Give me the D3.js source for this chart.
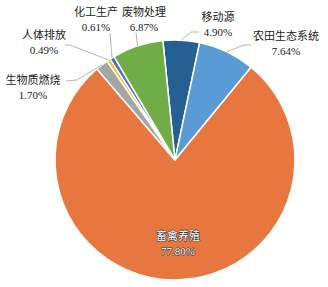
<!DOCTYPE html>
<html>
<head>
<meta charset="utf-8">
<script src="https://cdn.jsdelivr.net/npm/d3@7"></script>
<style>
  body { margin: 0; background: #fff; }
  .lbl { font-family: "Liberation Serif", "Noto Sans CJK SC", serif; font-size: 11px; fill: #222; }
  .inner { fill: #fff; stroke: #3a3a3a; stroke-width: 1.2px; paint-order: stroke; stroke-linejoin: round; }
  .leader { fill: none; stroke: #b5b5b5; stroke-width: 1; }
</style>
</head>
<body>
<script>
// data, in drawing order (clockwise)
const names = ["移动源", "农田生态系统", "畜禽养殖", "生物质燃烧", "人体排放", "化工生产", "废物处理"];
const shares = [4.90, 7.64, 77.80, 1.70, 0.49, 0.61, 6.87];
const colors = ["#265f91", "#5b9bd5", "#e8773f", "#a5a5a5", "#ffc000", "#4472c4", "#70ad47"];

const width = 328, height = 287;
const cx = 175, cy = 160, radius = 120;
const startDeg = -5.8;

// label layout: [x, y of name line], plus leader bend points (label side)
const labelPos = [
  [218, 17], [286, 36], [178, 236], [33, 80], [44, 35], [96, 12], [144, 12]
];
const leaderEnds = [
  [[191, 32], [199, 32]],
  [[244, 45], [251, 45]],
  null,
  [[77, 80], [66, 81]],
  [[70, 45], [65, 45]],
  [[110, 33]],
  [[136, 33]]
];

const svg = d3.select("body").append("svg")
  .attr("width", width)
  .attr("height", height);

const g = svg.append("g")
  .attr("transform", `translate(${cx},${cy})`);

const toRad = d => d * Math.PI / 180;

const pie = d3.pie()
  .sort(null)
  .value(d => d)
  .startAngle(toRad(startDeg))
  .endAngle(toRad(startDeg + 360));

const arcs = pie(shares);

const arc = d3.arc()
  .innerRadius(0)
  .outerRadius(radius);

g.selectAll("path.slice")
  .data(arcs)
  .enter()
  .append("path")
  .attr("class", "slice")
  .attr("d", arc)
  .attr("fill", (d, i) => colors[i])
  .attr("stroke", "#fff")
  .attr("stroke-width", 1.5);

// leader lines from slice edge to label
const line = d3.line();
arcs.forEach((d, i) => {
  if (!leaderEnds[i]) return;
  const a = (d.startAngle + d.endAngle) / 2;
  const p0 = [cx + radius * Math.sin(a), cy - radius * Math.cos(a)];
  svg.append("path")
    .attr("class", "leader")
    .attr("d", line([p0].concat(leaderEnds[i])));
});

// labels
arcs.forEach((d, i) => {
  const [x, y] = labelPos[i];
  const t = svg.append("text")
    .attr("class", i === 2 ? "lbl inner" : "lbl")
    .attr("text-anchor", "middle")
    .attr("x", x)
    .attr("y", y);
  t.append("tspan")
    .attr("x", x)
    .attr("dy", "0.35em")
    .text(names[i]);
  t.append("tspan")
    .attr("x", x)
    .attr("dy", "15")
    .text(shares[i].toFixed(2) + "%");
});
</script>
</body>
</html>
